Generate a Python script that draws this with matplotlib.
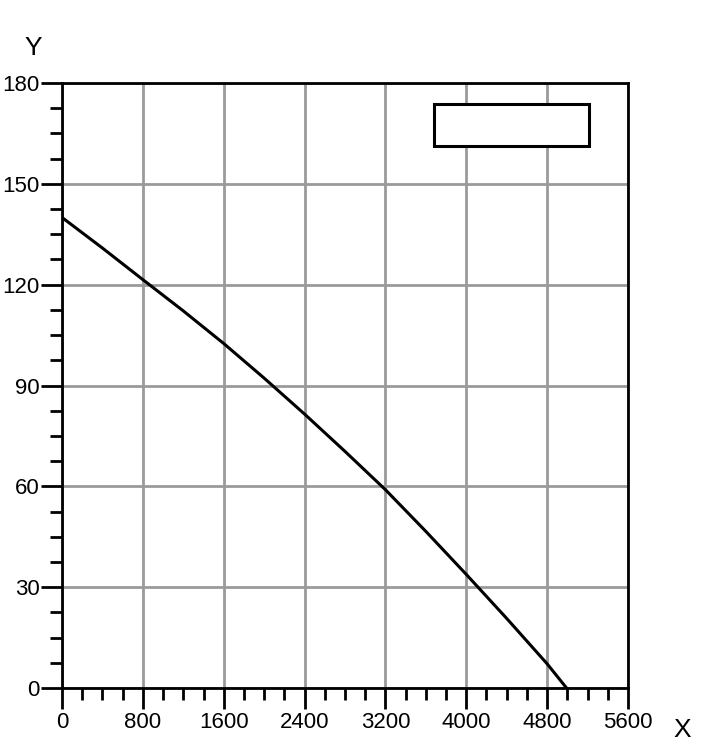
import numpy as np
import matplotlib.pyplot as plt
from matplotlib.patches import Rectangle
from matplotlib.ticker import MultipleLocator

# values
x = [0, 400, 800, 1200, 1600, 2000, 2400, 2800, 3200, 3600, 4000, 4400, 4800, 4992]
y = [140, 130.9, 121.5, 112.2, 102.5, 92.2, 81.5, 70.4, 59, 46.6, 33.8, 20.7, 7.2, 0]

x_ticks = [0, 800, 1600, 2400, 3200, 4000, 4800, 5600]
y_ticks = [0, 30, 60, 90, 120, 150, 180]


def main():
    plt.rcParams['font.family'] = ['Liberation Sans', 'DejaVu Sans']

    fig = plt.figure(figsize=(7.27, 7.48), dpi=100)
    ax = fig.add_axes([0.0853, 0.0802, 0.7785, 0.8088])

    ax.plot(x, y, color='black', lw=2.2, zorder=4)

    ax.set_xlim(0, 5600)
    ax.set_ylim(0, 180)
    ax.set_xticks(x_ticks)
    ax.set_yticks(y_ticks)
    ax.xaxis.set_minor_locator(MultipleLocator(200))
    ax.yaxis.set_minor_locator(MultipleLocator(7.5))

    ax.grid(True, which='major', color='#9a9a9a', lw=2, zorder=1)
    ax.set_axisbelow(True)

    for s in ax.spines.values():
        s.set_linewidth(2)
        s.set_color('black')
        s.set_zorder(5)

    ax.tick_params(which='major', direction='out', length=15, width=2,
                   labelsize=16, colors='black', pad=1)
    ax.tick_params(which='minor', direction='out', length=8.5, width=2)
    ax.tick_params(axis='x', which='major', pad=2)

    # empty legend box
    ax.add_patch(Rectangle((0.657, 0.896), 0.274, 0.069, transform=ax.transAxes,
                           facecolor='white', edgecolor='black', lw=2.2, zorder=6))

    fig.text(33 / 727, 1 - 48 / 748, 'Y', fontsize=19, ha='center', va='center')
    fig.text(682 / 727, 1 - 730 / 748, 'X', fontsize=19, ha='center', va='center')

    fig.savefig('out.png', dpi=100)


if __name__ == '__main__':
    main()
